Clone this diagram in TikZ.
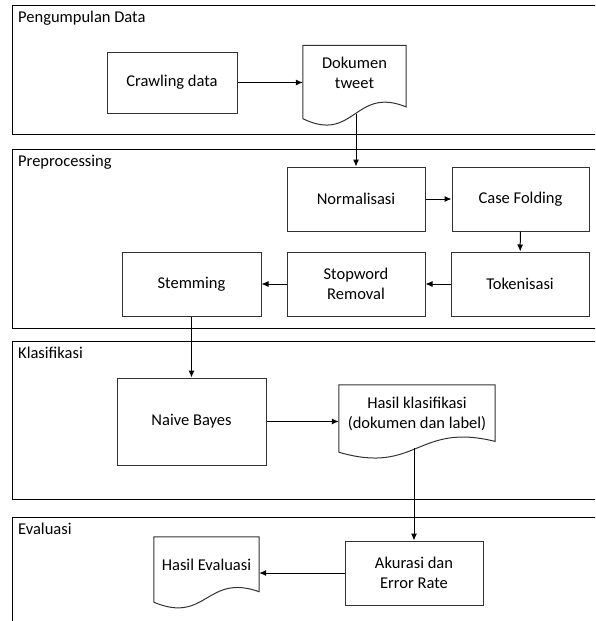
\documentclass[tikz,border=0pt]{standalone}
\usepackage{fontspec}
\setmainfont{Carlito}
\usetikzlibrary{arrows.meta,calc}
\definecolor{linegray}{RGB}{50,50,50}

% wavy bottom of a document shape, drop = extra depth below the node
\newcommand{\docoutline}[2]{%
  \draw[boxline] let \p1=(#1.north west), \p2=($(#1.south east)+(0,#2)$), \n1={\y1-\y2} in
    (\x1,\y2) -- (\x1,\y1) -- (\x2,\y1) -- (\x2,{\y2+0.16*\n1})
    .. controls ({0.5*(\x1+\x2)},{\y2+0.45*\n1}) and ({0.5*(\x1+\x2)},{\y2-0.34*\n1}) .. (\x1,\y2)
    coordinate[pos=0.5] (#1-bottom);
}

\begin{document}
\begin{tikzpicture}[
    x=1pt,
    y=-1pt,
    >={Latex[length=7pt,width=6pt]},
    every node/.style={font=\fontsize{16.5}{20}\selectfont},
    panel/.style={draw=black,line width=1.4pt,anchor=north west,minimum width=600,inner sep=0},
    paneltitle/.style={anchor=base west,inner sep=0},
    boxline/.style={draw=linegray,line width=1pt},
    proc/.style={boxline,rectangle,align=center,minimum width=138,minimum height=64},
    docnode/.style={align=center,inner sep=0},
    flow/.style={->,draw=black,line width=1pt}
]
  \useasboundingbox (0,0) rectangle (595,621);
  \clip (0,0) rectangle (595,621);

  % panels
  \node[panel,minimum height=129] (pnlData) at (12,5) {};
  \node[panel,minimum height=179] (pnlPre) at (12,149) {};
  \node[panel,minimum height=158] (pnlKlas) at (12,341) {};
  \node[panel,minimum height=130] (pnlEval) at (12,517) {};
  \node[paneltitle] (ttlData) at ($(pnlData.north west)+(6,18)$) {Pengumpulan Data};
  \node[paneltitle] (ttlPre) at ($(pnlPre.north west)+(6,17)$) {Preprocessing};
  \node[paneltitle] (ttlKlas) at ($(pnlKlas.north west)+(6,17)$) {Klasifikasi};
  \node[paneltitle] (ttlEval) at ($(pnlEval.north west)+(6,17)$) {Evaluasi};

  % pengumpulan data
  \node[proc,minimum width=130,minimum height=61] (crawl) at (172,82.5) {Crawling data};
  \node[docnode,minimum width=103,minimum height=55] (dok) at (354.5,73) {Dokumen\\tweet};
  \docoutline{dok}{18}

  % preprocessing
  \node[proc] (norm) at (356,199) {Normalisasi};
  \node[proc,minimum width=137] (casef) at (520.5,199) {Case Folding};
  \node[proc] (token) at (520,284) {Tokenisasi};
  \node[proc] (stop) at (356,284) {Stopword\\Removal};
  \node[proc,minimum width=139] (stem) at (191.5,284) {Stemming};

  % klasifikasi
  \node[proc,minimum width=149,minimum height=87] (nb) at (191.5,421.5) {Naive Bayes};
  \node[docnode,minimum width=156,minimum height=58] (hasilk) at (417,414) {Hasil klasifikasi\\(dokumen dan label)};
  \docoutline{hasilk}{9}

  % evaluasi
  \node[proc] (akur) at (414,573) {Akurasi dan\\Error Rate};
  \node[docnode,minimum width=105,minimum height=56] (hasile) at (206.5,565) {Hasil Evaluasi};
  \docoutline{hasile}{9}

  % alur
  \draw[flow] (crawl.east) -- (crawl.east -| dok.west);
  \draw[flow] (norm.north |- dok-bottom) -- (norm.north);
  \draw[flow] (norm) -- (casef);
  \draw[flow] (casef) -- (token);
  \draw[flow] (token) -- (stop);
  \draw[flow] (stop) -- (stem);
  \draw[flow] (stem) -- (nb);
  \draw[flow] (nb.east) -- (nb.east -| hasilk.west);
  \draw[flow] (akur.north |- hasilk-bottom) -- (akur.north);
  \draw[flow] (akur.west) -- (akur.west -| hasile.east);
\end{tikzpicture}
\end{document}
